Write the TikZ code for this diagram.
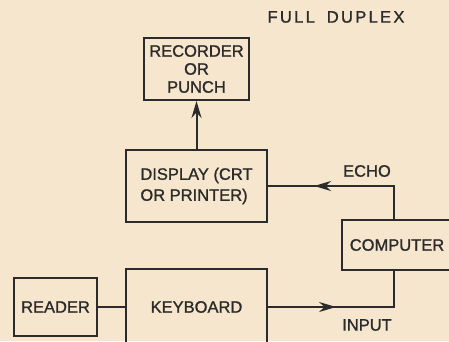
\documentclass[tikz,border=0pt]{standalone}
\usepackage{fontspec}
\setmainfont[FakeBold=1.2]{Liberation Sans}
\usepackage{xcolor}
\usetikzlibrary{arrows.meta,positioning,decorations.markings}

\definecolor{paper}{HTML}{F6E6CD}
\definecolor{ink}{HTML}{2B2B2B}

\begin{document}
\begin{tikzpicture}[
    x=1pt, y=-1pt,
    font=\fontsize{16.5}{18}\selectfont,
    box/.style={draw=ink, line width=2pt, text=ink, minimum width=#1, align=center, inner sep=0pt},
    label/.style={text=ink, inner sep=0pt},
    arrow/.style={-{Stealth[length=17pt,width=10pt]}, draw=ink, line width=2pt},
    link/.style={draw=ink, line width=2pt},
    midarrow/.style={postaction={decorate}, decoration={markings,
        mark=at position #1 with {\arrow{Stealth[length=17pt,width=10pt]}}}}
]
    \fill[paper] (0,0) rectangle (449,341);
    \clip (0,0) rectangle (449,341);

    \node[label] (title) at (336,17) {\addfontfeature{LetterSpace=14}FULL\hspace{12pt}DUPLEX};

    \node[box=105pt, minimum height=62pt] (recorder) at (196.5,69) {RECORDER\\OR\\PUNCH};
    \node[box=141pt, minimum height=72pt, align=left] (display) at (196.5,186) {DISPLAY (CRT\\[3pt]OR PRINTER)};
    \node[box=110pt, minimum height=50pt] (computer) at (397,245) {COMPUTER};
    \node[box=141pt, minimum height=76pt] (keyboard) at (196.5,307) {KEYBOARD};
    \node[box=83pt, minimum height=58pt] (reader) at (55.5,307) {READER};

    \coordinate (echo) at (394,185);
    \coordinate (input) at (394,307);

    \node[label] (echolabel) at (367,171) {ECHO};
    \node[label] (inputlabel) at (367,325) {INPUT};

    \draw[arrow] (display) -- (recorder);
    \draw[link] (reader) -- (keyboard);
    \draw[link, midarrow=0.71] (computer.north -| echo) |- (display.east);
    \draw[link, midarrow=0.42] (keyboard.east) -| (computer.south -| input);
\end{tikzpicture}
\end{document}
